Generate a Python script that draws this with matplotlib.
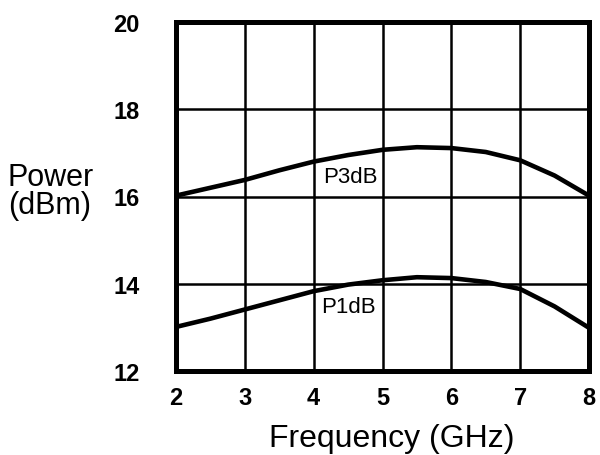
import matplotlib
matplotlib.use("Agg")
import matplotlib.pyplot as plt

freq = [2.0, 2.5, 3.0, 3.5, 4.0, 4.5, 5.0, 5.5, 6.0, 6.5, 7.0, 7.5, 8.0]
p3db = [16.02, 16.20, 16.38, 16.60, 16.80, 16.95, 17.07, 17.13, 17.11, 17.02, 16.83, 16.48, 16.02]
p1db = [13.01, 13.20, 13.41, 13.62, 13.83, 13.98, 14.08, 14.15, 14.13, 14.04, 13.88, 13.48, 12.99]
xticks = [2, 3, 4, 5, 6, 7, 8]
yticks = [12, 14, 16, 18, 20]

plt.rcParams['font.family'] = ['Liberation Sans', 'DejaVu Sans']

fig = plt.figure(figsize=(6.0, 4.56), dpi=100)
ax = fig.add_axes([176/600, 1-372/456, 413/600, 349/456])

ax.set_xlim(2, 8)
ax.set_ylim(12, 20)
ax.set_xticks(xticks)
ax.set_yticks(yticks)
ax.grid(True, color='black', linewidth=1.8)
ax.set_axisbelow(True)
for s in ax.spines.values():
    s.set_linewidth(3.6)
ax.tick_params(length=0, labelsize=17)
ax.tick_params(axis='x', pad=11)
ax.tick_params(axis='y', pad=26)
for lbl in ax.get_xticklabels() + ax.get_yticklabels():
    lbl.set_fontweight('bold')

ax.plot(freq, p3db, color='black', linewidth=3.3, solid_capstyle='butt', zorder=3)
ax.plot(freq, p1db, color='black', linewidth=3.3, solid_capstyle='butt', zorder=3)

ax.text(4.54, 16.45, 'P3dB', fontsize=16, ha='center', va='center', zorder=4)
ax.text(4.51, 13.47, 'P1dB', fontsize=16, ha='center', va='center', zorder=4)

fig.text(392/600, 1-439/456, 'Frequency (GHz)', fontsize=23, ha='center', va='center')
fig.text(8/600, 1-192/456, 'Power\n(dBm)', fontsize=22, ha='left', va='center', linespacing=0.95)

fig.savefig('out.png', dpi=100)
